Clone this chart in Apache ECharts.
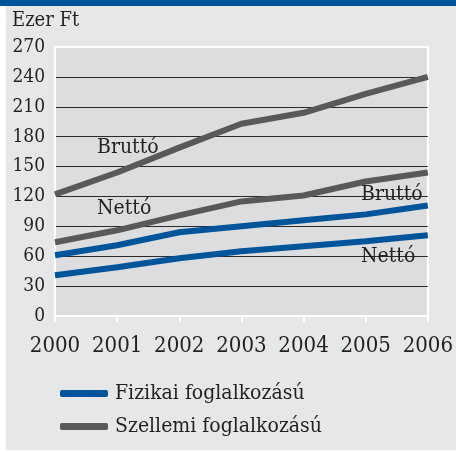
<!DOCTYPE html>
<html>
<head>
<meta charset="utf-8">
<script src="https://cdn.jsdelivr.net/npm/echarts@6/dist/echarts.min.js"></script>
<style>
* { margin: 0; padding: 0; }
body { background: #fff; }
#chart { width: 456px; height: 452px; }
</style>
</head>
<body>
<div id="chart"></div>
<script>
// years on the x axis
var years = ["2000", "2001", "2002", "2003", "2004", "2005", "2006"];
// Ezer Ft
var fizikaiBrutto = [61, 71, 84, 90, 96, 102, 111];
var fizikaiNetto = [41, 49, 58, 65, 70, 75, 81];
var szellemiBrutto = [122, 144, 169, 193, 204, 223, 240];
var szellemiNetto = [74, 86, 101, 115, 121, 135, 144];
var yTicks = { min: 0, max: 270, interval: 30 };
var unitLabel = "Ezer Ft";
var legendNames = ["Fizikai foglalkozású", "Szellemi foglalkozású"];

var font = "'DejaVu Serif Condensed', 'DejaVu Serif', serif";
var textColor = "#231f20";
var blue = "#00559a";
var gray = "#58595b";

var chart = echarts.init(document.getElementById("chart"));

function lineSeries(name, data, color) {
  return {
    name: name,
    type: "line",
    data: data,
    symbol: "none",
    lineStyle: { color: color, width: 6 },
    itemStyle: { color: color },
    z: 3
  };
}

// split line colours: hidden at 0 and 270 (white border there), dark in between
var splitColors = [];
for (var v = yTicks.min; v <= yTicks.max; v += yTicks.interval) {
  splitColors.push(v === yTicks.min || v === yTicks.max ? "rgba(0,0,0,0)" : "#2a2a2a");
}

function label(text, x, y, size) {
  return {
    type: "text",
    left: x,
    top: y,
    z: 10,
    style: { text: text, font: size + "px " + font, fill: textColor }
  };
}

chart.setOption({
  animation: false,
  textStyle: { fontFamily: font },
  graphic: [
    { type: "rect", shape: { x: 0, y: 0, width: 456, height: 6 }, style: { fill: "#00559a" }, z: -10 },
    { type: "rect", shape: { x: 6, y: 6, width: 450, height: 444 }, style: { fill: "#e6e7e9" }, z: -10 },
    label(unitLabel, 12, 11, 20),
    label("Bruttó", 97, 137, 21),
    label("Nettó", 97, 198, 21),
    label("Bruttó", 361, 184, 21),
    label("Nettó", 361, 246, 21)
  ],
  grid: {
    left: 55,
    right: 24,
    top: 47,
    bottom: 136,
    show: true,
    backgroundColor: "#dcdddf",
    borderColor: "#fff",
    borderWidth: 2
  },
  legend: {
    orient: "vertical",
    left: 60,
    top: 383,
    padding: 0,
    icon: "roundRect",
    itemWidth: 48,
    itemHeight: 7,
    itemGap: 12,
    data: legendNames,
    textStyle: { fontFamily: font, fontSize: 21, color: textColor, padding: [0, 0, 0, 2] }
  },
  xAxis: {
    type: "category",
    data: years,
    boundaryGap: false,
    axisLine: { lineStyle: { color: "#fff", width: 2 } },
    axisTick: { show: true, interval: 0, length: 6, lineStyle: { color: "#fff", width: 2 } },
    axisLabel: { interval: 0, fontFamily: font, fontSize: 22, color: textColor, margin: 19 },
    splitLine: { show: false }
  },
  yAxis: {
    type: "value",
    min: yTicks.min,
    max: yTicks.max,
    interval: yTicks.interval,
    axisLine: { show: true, lineStyle: { color: "#fff", width: 2 } },
    axisTick: { show: false },
    axisLabel: { fontFamily: font, fontSize: 19, color: textColor, margin: 10 },
    splitLine: { show: true, lineStyle: { color: splitColors, width: 1 } }
  },
  series: [
    lineSeries(legendNames[0], fizikaiBrutto, blue),
    lineSeries(legendNames[1], szellemiBrutto, gray),
    lineSeries(legendNames[0], fizikaiNetto, blue),
    lineSeries(legendNames[1], szellemiNetto, gray)
  ]
});
</script>
</body>
</html>
